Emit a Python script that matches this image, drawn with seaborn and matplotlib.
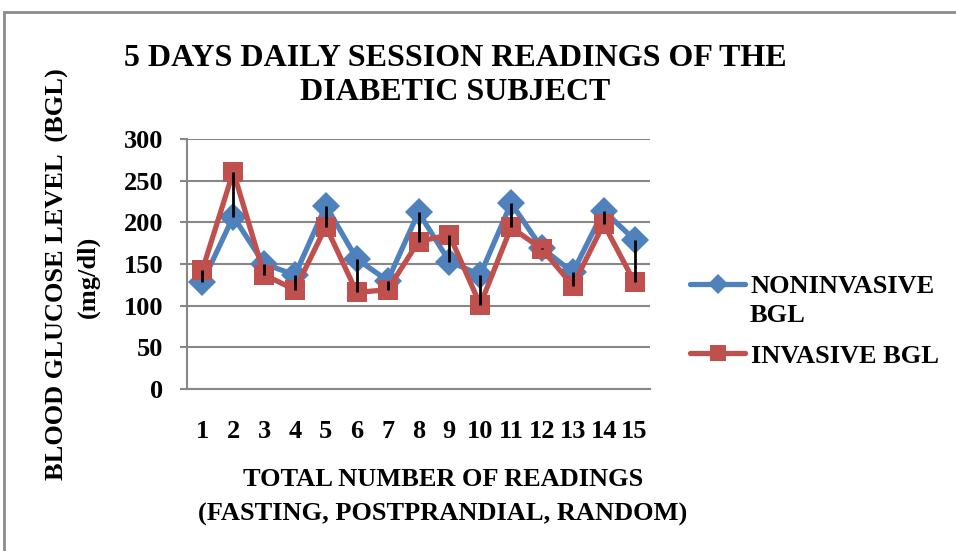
import matplotlib
matplotlib.use("Agg")
import matplotlib.pyplot as plt
import seaborn as sns
import pandas as pd
from matplotlib.lines import Line2D
from matplotlib.patches import Rectangle

readings = list(range(1, 16))
noninvasive = [128, 207, 150, 137, 220, 156, 130, 212, 153, 137, 223, 169, 140, 214, 179]
invasive = [143, 261, 137, 119, 195, 116, 119, 177, 185, 101, 194, 168, 124, 198, 128]
yticks = [0, 50, 100, 150, 200, 250, 300]

sns.set_theme(style="white")
plt.rcParams['font.family'] = ['Liberation Serif', 'DejaVu Serif']
plt.rcParams['font.weight'] = 'bold'
plt.rcParams['text.color'] = 'black'
plt.rcParams['xtick.color'] = 'black'
plt.rcParams['ytick.color'] = 'black'

BLUE = "#4F81BD"
RED = "#C0504D"
GRID = "#878787"
FS = 19

df = pd.DataFrame({
    "x": readings * 2,
    "y": noninvasive + invasive,
    "series": ["NONINVASIVE BGL"] * 15 + ["INVASIVE BGL"] * 15,
})

fig = plt.figure(figsize=(9.56, 5.51), dpi=100)
ax = fig.add_axes([187/956, 1-389/551, (650-187)/956, (389-139)/551])

sns.lineplot(data=df, x="x", y="y", hue="series", style="series",
             palette={"NONINVASIVE BGL": BLUE, "INVASIVE BGL": RED},
             markers={"NONINVASIVE BGL": "D", "INVASIVE BGL": "s"},
             dashes=False, linewidth=3.8, markersize=14, markeredgewidth=0,
             ax=ax, legend=False, zorder=3)
ax.vlines(readings, [min(a, b) for a, b in zip(noninvasive, invasive)],
          [max(a, b) for a, b in zip(noninvasive, invasive)],
          colors="black", linewidth=2, zorder=5)

ax.set_xlim(0.5, 15.5)
ax.set_ylim(0, 300)
ax.set_yticks(yticks)
ax.set_yticklabels([str(t) for t in yticks], fontsize=FS, fontweight='bold', color='black')
ax.set_xticks(readings)
ax.set_xticklabels([str(r) for r in readings], fontsize=FS, fontweight='bold', color='black')
ax.grid(axis='y', color=GRID, linewidth=1.5)
ax.grid(axis='x', visible=False)
for s in ["top", "right"]:
    ax.spines[s].set_visible(False)
for s in ["left", "bottom"]:
    ax.spines[s].set_color(GRID)
    ax.spines[s].set_linewidth(1.5)
ax.tick_params(axis='y', direction='out', length=5, width=1.5, color=GRID, pad=12, left=True)
ax.tick_params(axis='x', length=0, pad=22)
ax.set_xlabel("")
ax.set_ylabel("")

fig.text(455/956, 1-58/551, "5 DAYS DAILY SESSION READINGS OF THE", ha='center', va='center',
         fontsize=23, fontweight='bold')
fig.text(455/956, 1-93/551, "DIABETIC SUBJECT", ha='center', va='center',
         fontsize=23, fontweight='bold')
fig.text(57/956, 1-274/551, "BLOOD GLUCOSE LEVEL  (BGL)", rotation=90, ha='center', va='center',
         fontsize=FS, fontweight='bold')
fig.text(88/956, 1-277/551, "(mg/dl)", rotation=90, ha='center', va='center',
         fontsize=FS, fontweight='bold')
fig.text(443/956, 1-479/551, "TOTAL NUMBER OF READINGS", ha='center', va='center',
         fontsize=FS, fontweight='bold')
fig.text(443/956, 1-514/551, "(FASTING, POSTPRANDIAL, RANDOM)", ha='center', va='center',
         fontsize=FS, fontweight='bold')

handles = [Line2D([], [], color=BLUE, marker='D', linewidth=3.8, markersize=10, markeredgewidth=0),
           Line2D([], [], color=RED, marker='s', linewidth=3.8, markersize=11, markeredgewidth=0)]
fig.legend(handles, ["NONINVASIVE", "INVASIVE BGL"], loc='center left',
           bbox_to_anchor=(690/956, 1-321/551), frameon=False, handlelength=2.1,
           handletextpad=0.2, labelspacing=1.75, borderpad=0, borderaxespad=0,
           prop={'size': FS, 'weight': 'bold'})
fig.text(750/956, 1-316/551, "BGL", ha='left', va='center', fontsize=FS, fontweight='bold')

fig.patches.append(Rectangle((4/956, -0.1), 1.2, 1-12/551+0.1, transform=fig.transFigure,
                             fill=False, edgecolor="#8C8C8C", linewidth=2))

fig.savefig("out.png", dpi=100)
